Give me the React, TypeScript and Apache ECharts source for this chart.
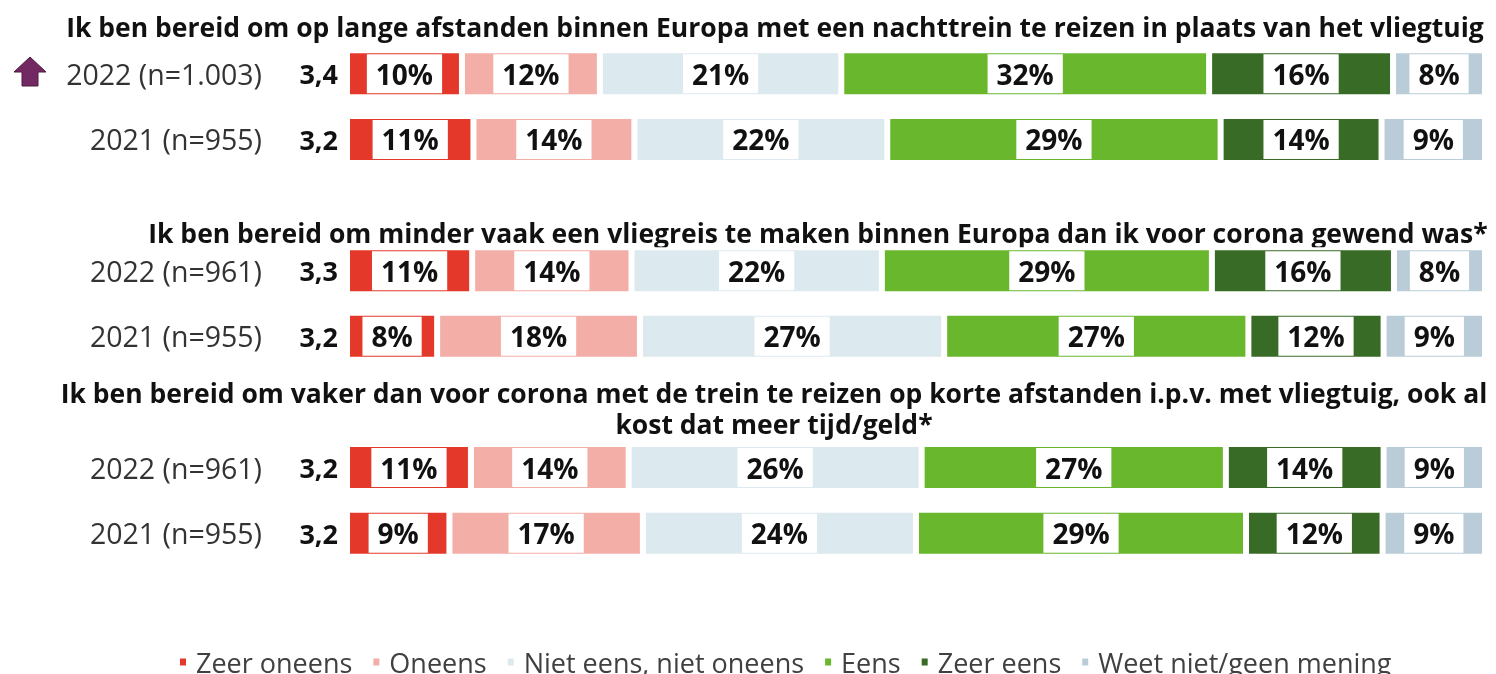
import React, { useEffect, useRef } from 'react';
import * as echarts from 'echarts';

const FONT = '"Open Sans", "Noto Sans", sans-serif';

// ---- data ----
const statementTitles = [
  'Ik ben bereid om op lange afstanden binnen Europa met een nachttrein te reizen in plaats van het vliegtuig',
  'Ik ben bereid om minder vaak een vliegreis te maken binnen Europa dan ik voor corona gewend was*',
  'Ik ben bereid om vaker dan voor corona met de trein te reizen op korte afstanden i.p.v. met vliegtuig, ook al\nkost dat meer tijd/geld*',
];
const rowLabels = ['2022 (n=1.003)', '2021 (n=955)', '2022 (n=961)', '2021 (n=955)', '2022 (n=961)', '2021 (n=955)'];
const meanScores = ['3,4', '3,2', '3,3', '3,2', '3,2', '3,2'];
// slot layout on the category axis (null = spacer for the statement title)
const slotRows: (number | null)[] = [0, 1, null, 2, 3, null, 4, 5];

const categoryNames = ['Zeer oneens', 'Oneens', 'Niet eens, niet oneens', 'Eens', 'Zeer eens', 'Weet niet/geen mening'];
const zeerOneens = [10, 11, 11, 8, 11, 9];
const oneens = [12, 14, 14, 18, 14, 17];
const neutraal = [21, 22, 22, 27, 26, 24];
const eens = [32, 29, 29, 27, 27, 29];
const zeerEens = [16, 14, 16, 12, 14, 12];
const weetNiet = [8, 9, 8, 9, 9, 9];
const seriesValues = [zeerOneens, oneens, neutraal, eens, zeerEens, weetNiet];
const colors = ['#E4392A', '#F4AEA8', '#DCE9EF', '#69B72D', '#386B25', '#BACCD8'];

export default function App() {
  const ref = useRef<HTMLDivElement>(null);
  useEffect(() => {
    if (!ref.current) return;
    const chart = echarts.init(ref.current, undefined, { renderer: 'svg' });
    const rowSums = rowLabels.map((_, r) => seriesValues.reduce((s, arr) => s + arr[r], 0));

    const series = seriesValues.map((vals, si) => ({
      name: categoryNames[si],
      type: 'bar',
      stack: 'total',
      barWidth: 47,
      itemStyle: { color: colors[si], borderColor: '#fff', borderWidth: 3 },
      label: {
        show: true,
        position: 'inside',
        formatter: (p: any) => {
          const r = slotRows[p.dataIndex];
          return r == null ? '' : vals[r] + '%';
        },
        backgroundColor: '#fff',
        padding: [5, 9, 4, 9],
        color: '#111',
        fontFamily: FONT,
        fontWeight: 'bold',
        fontSize: 28,
        lineHeight: 30,
      },
      data: slotRows.map((r) => (r == null ? '-' : (vals[r] / rowSums[r]) * 100)),
    }));

    const titleStyle = { align: 'center', verticalAlign: 'middle', fill: '#111', fontFamily: FONT, fontWeight: 'bold', fontSize: 26.5 };
    const graphic: any[] = [
      { type: 'text', x: 775, y: 27, style: { ...titleStyle, text: statementTitles[0] } },
      { type: 'text', x: 818, y: 233, style: { ...titleStyle, text: statementTitles[1] } },
      { type: 'text', x: 774, y: 408, style: { ...titleStyle, text: statementTitles[2], lineHeight: 31 } },
      {
        type: 'polygon',
        shape: { points: [[30, 57], [46, 72], [38, 72], [38, 86], [22, 86], [22, 72], [14, 72]] },
        style: { fill: '#722862', stroke: '#4E1A44', lineWidth: 1 },
      },
    ];

    chart.setOption({
      animation: false,
      textStyle: { fontFamily: FONT },
      grid: { left: 347, right: 11, top: 41, bottom: 108, containLabel: false },
      xAxis: { type: 'value', min: 0, max: 100, show: false },
      yAxis: {
        type: 'category',
        inverse: true,
        data: slotRows.map((r, i) => (r == null ? 'gap' + i : 'row' + r)),
        axisLine: { show: false },
        axisTick: { show: false },
        splitLine: { show: false },
        axisLabel: {
          margin: 9,
          formatter: (_v: string, i: number) => {
            const r = slotRows[i];
            return r == null ? '' : `{a|${rowLabels[r]}}{b|${meanScores[r]}}`;
          },
          rich: {
            a: { fontSize: 28.5, color: '#333', fontFamily: FONT },
            b: { fontSize: 27, color: '#111', fontWeight: 'bold', fontFamily: FONT, width: 76, align: 'right' },
          },
        },
      },
      legend: {
        data: categoryNames,
        top: 647,
        left: 178,
        padding: 0,
        icon: 'rect',
        itemWidth: 8,
        itemHeight: 9,
        itemGap: 19,
        textStyle: { fontSize: 27, color: '#404040', fontFamily: FONT, lineHeight: 30, padding: [0, 0, 0, 4] },
      },
      graphic,
      series,
    });
    return () => chart.dispose();
  }, []);
  return <div ref={ref} style={{ position: 'fixed', left: 0, top: 0, width: 1496, height: 674 }} />;
}
